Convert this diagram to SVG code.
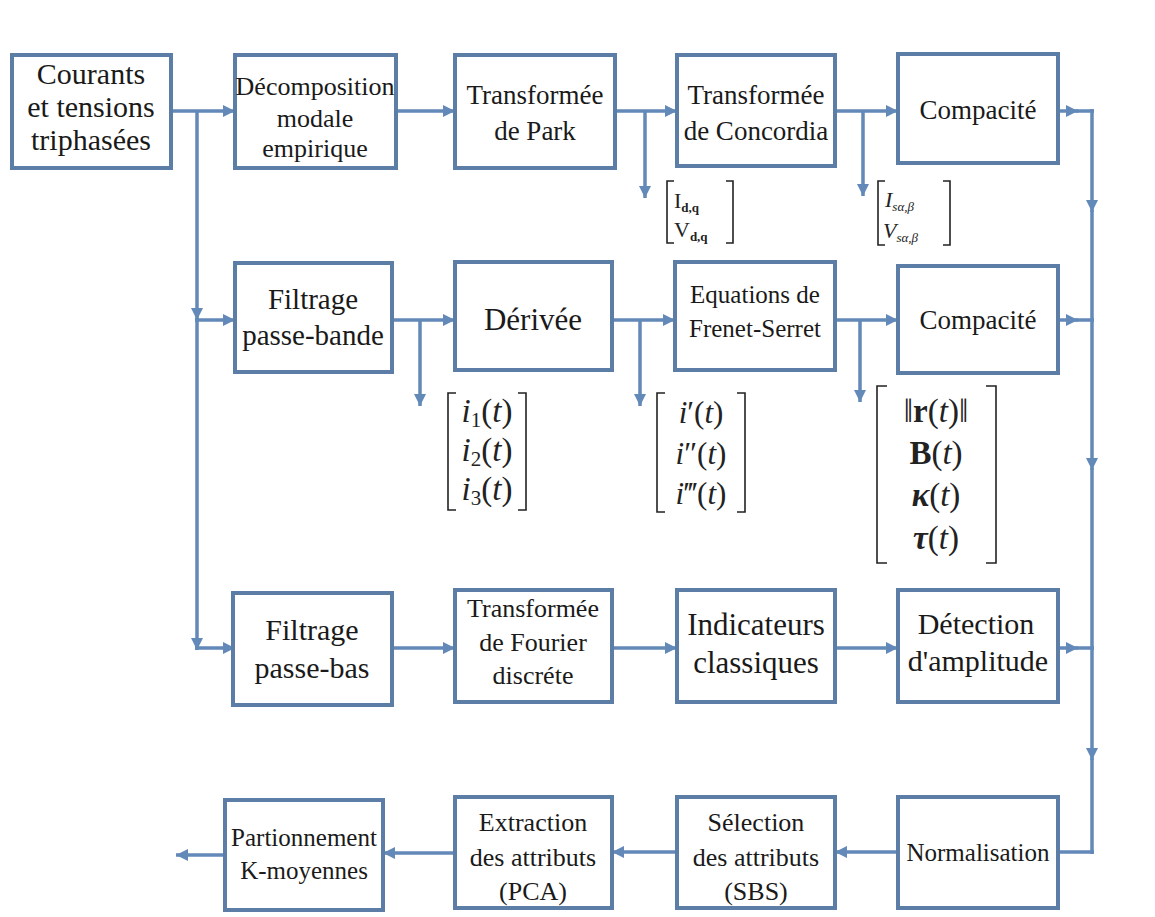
<svg xmlns="http://www.w3.org/2000/svg" width="1155" height="917" viewBox="0 0 1155 917">
<style>
.box{fill:#fff;stroke:#5b7da6;stroke-width:4}
.lbl{font-family:"Liberation Serif","Times New Roman",serif;fill:#1a1a1a;text-anchor:middle}
.ln{fill:none;stroke:#6289b8;stroke-width:3.5}
.br{fill:none;stroke:#222;stroke-width:1.6}
.m{font-family:"Liberation Serif","Times New Roman",serif;fill:#222}
</style>
<defs>
<marker id="ah" markerUnits="userSpaceOnUse" markerWidth="14" markerHeight="12" refX="12" refY="6" orient="auto">
<path d="M0,0 L12,6 L0,12 Z" fill="#6289b8"/>
</marker>
</defs>
<rect width="1155" height="917" fill="#fff"/>

<g id="connectors">
<line class="ln" x1="171" y1="111" x2="235" y2="111" marker-end="url(#ah)"/>
<line class="ln" x1="396" y1="111" x2="455" y2="111" marker-end="url(#ah)"/>
<line class="ln" x1="615" y1="111" x2="677" y2="111" marker-end="url(#ah)"/>
<line class="ln" x1="835" y1="111" x2="898" y2="111" marker-end="url(#ah)"/>
<line class="ln" x1="645" y1="111" x2="645" y2="198" marker-end="url(#ah)"/>
<line class="ln" x1="863" y1="111" x2="863" y2="196" marker-end="url(#ah)"/>
<line class="ln" x1="1058" y1="111" x2="1078" y2="111" marker-end="url(#ah)"/>
<line class="ln" x1="1076" y1="111" x2="1094" y2="111"/>
<line class="ln" x1="197" y1="111" x2="197" y2="320" marker-end="url(#ah)"/>
<line class="ln" x1="197" y1="318" x2="197" y2="650" marker-end="url(#ah)"/>
<line class="ln" x1="195" y1="320" x2="235" y2="320" marker-end="url(#ah)"/>
<line class="ln" x1="195" y1="648" x2="235" y2="648" marker-end="url(#ah)"/>
<line class="ln" x1="392" y1="320" x2="455" y2="320" marker-end="url(#ah)"/>
<line class="ln" x1="612" y1="320" x2="675" y2="320" marker-end="url(#ah)"/>
<line class="ln" x1="835" y1="320" x2="898" y2="320" marker-end="url(#ah)"/>
<line class="ln" x1="420" y1="320" x2="420" y2="406" marker-end="url(#ah)"/>
<line class="ln" x1="640" y1="320" x2="640" y2="406" marker-end="url(#ah)"/>
<line class="ln" x1="860" y1="320" x2="860" y2="402" marker-end="url(#ah)"/>
<line class="ln" x1="1058" y1="320" x2="1078" y2="320" marker-end="url(#ah)"/>
<line class="ln" x1="1076" y1="320" x2="1094" y2="320"/>
<line class="ln" x1="392" y1="648" x2="455" y2="648" marker-end="url(#ah)"/>
<line class="ln" x1="612" y1="648" x2="677" y2="648" marker-end="url(#ah)"/>
<line class="ln" x1="835" y1="648" x2="898" y2="648" marker-end="url(#ah)"/>
<line class="ln" x1="1058" y1="648" x2="1078" y2="648" marker-end="url(#ah)"/>
<line class="ln" x1="1076" y1="648" x2="1094" y2="648"/>
<line class="ln" x1="1092" y1="109" x2="1092" y2="212" marker-end="url(#ah)"/>
<line class="ln" x1="1092" y1="210" x2="1092" y2="470" marker-end="url(#ah)"/>
<line class="ln" x1="1092" y1="468" x2="1092" y2="760" marker-end="url(#ah)"/>
<line class="ln" x1="1092" y1="758" x2="1092" y2="854"/>
<line class="ln" x1="1094" y1="852" x2="1058" y2="852"/>
<line class="ln" x1="898" y1="852" x2="835" y2="852" marker-end="url(#ah)"/>
<line class="ln" x1="677" y1="852" x2="612" y2="852" marker-end="url(#ah)"/>
<line class="ln" x1="455" y1="853" x2="383" y2="853" marker-end="url(#ah)"/>
<line class="ln" x1="225" y1="855" x2="176" y2="855" marker-end="url(#ah)"/>
</g>

<g id="n-courants"><rect class="box" x="12" y="55" width="159" height="113"/>
<text class="lbl" font-size="30" x="91" y="84">Courants</text>
<text class="lbl" font-size="30" x="91" y="117">et tensions</text>
<text class="lbl" font-size="30" x="91" y="150">triphasées</text></g>

<g id="n-emd"><rect class="box" x="235" y="55" width="161" height="113"/>
<text class="lbl" font-size="26" x="315" y="95">Décomposition</text>
<text class="lbl" font-size="26" x="315" y="127">modale</text>
<text class="lbl" font-size="26" x="315" y="157">empirique</text></g>

<g id="n-park"><rect class="box" x="455" y="55" width="160" height="113"/>
<text class="lbl" font-size="27" x="535" y="104">Transformée</text>
<text class="lbl" font-size="27" x="535" y="140">de Park</text></g>

<g id="n-concordia"><rect class="box" x="677" y="55" width="158" height="111"/>
<text class="lbl" font-size="27" x="756" y="104">Transformée</text>
<text class="lbl" font-size="27" x="756" y="140">de Concordia</text></g>

<g id="n-compacite1"><rect class="box" x="898" y="54" width="160" height="109"/>
<text class="lbl" font-size="27" x="978" y="119">Compacité</text></g>

<g id="n-passebande"><rect class="box" x="235" y="263" width="157" height="109"/>
<text class="lbl" font-size="29" x="313" y="309">Filtrage</text>
<text class="lbl" font-size="29" x="313" y="345">passe-bande</text></g>

<g id="n-derivee"><rect class="box" x="455" y="262" width="157" height="108"/>
<text class="lbl" font-size="31" x="533" y="330">Dérivée</text></g>

<g id="n-frenet"><rect class="box" x="675" y="262" width="160" height="108"/>
<text class="lbl" font-size="25" x="755" y="303">Equations de</text>
<text class="lbl" font-size="25" x="755" y="337">Frenet-Serret</text></g>

<g id="n-compacite2"><rect class="box" x="898" y="266" width="160" height="107"/>
<text class="lbl" font-size="27" x="978" y="329">Compacité</text></g>

<g id="n-passebas"><rect class="box" x="233" y="593" width="159" height="112"/>
<text class="lbl" font-size="30" x="312" y="640">Filtrage</text>
<text class="lbl" font-size="30" x="312" y="678">passe-bas</text></g>

<g id="n-fourier"><rect class="box" x="455" y="590" width="157" height="112"/>
<text class="lbl" font-size="26" x="533" y="617">Transformée</text>
<text class="lbl" font-size="26" x="533" y="651">de Fourier</text>
<text class="lbl" font-size="26" x="533" y="684">discréte</text></g>

<g id="n-indicateurs"><rect class="box" x="677" y="590" width="158" height="112"/>
<text class="lbl" font-size="31" x="756" y="635">Indicateurs</text>
<text class="lbl" font-size="31" x="756" y="673">classiques</text></g>

<g id="n-detection"><rect class="box" x="898" y="590" width="160" height="112"/>
<text class="lbl" font-size="30" x="976" y="634">Détection</text>
<text class="lbl" font-size="30" x="978" y="671">d'amplitude</text></g>

<g id="n-normalisation"><rect class="box" x="898" y="797" width="160" height="111"/>
<text class="lbl" font-size="25" x="978" y="861">Normalisation</text></g>

<g id="n-sbs"><rect class="box" x="677" y="797" width="158" height="111"/>
<text class="lbl" font-size="26" x="756" y="831">Sélection</text>
<text class="lbl" font-size="26" x="756" y="866">des attributs</text>
<text class="lbl" font-size="26" x="756" y="900">(SBS)</text></g>

<g id="n-pca"><rect class="box" x="455" y="797" width="157" height="111"/>
<text class="lbl" font-size="26" x="533" y="831">Extraction</text>
<text class="lbl" font-size="26" x="533" y="866">des attributs</text>
<text class="lbl" font-size="26" x="533" y="900">(PCA)</text></g>

<g id="n-kmeans"><rect class="box" x="225" y="800" width="158" height="110"/>
<text class="lbl" font-size="25" x="304" y="846">Partionnement</text>
<text class="lbl" font-size="25" x="304" y="879">K-moyennes</text></g>

<g id="m-dq">
<path class="br" d="M674,181 L667,181 L667,243 L674,243"/>
<path class="br" d="M726,181 L733,181 L733,243 L726,243"/>
<text class="m" font-size="22" x="674" y="208">I<tspan font-size="13" font-weight="bold" dy="4">d,q</tspan></text>
<text class="m" font-size="22" x="674" y="237">V<tspan font-size="13" font-weight="bold" dy="4">d,q</tspan></text>
</g>

<g id="m-ab">
<path class="br" d="M885,181 L878,181 L878,245 L885,245"/>
<path class="br" d="M943,181 L950,181 L950,245 L943,245"/>
<text class="m" font-size="22" font-style="italic" x="885" y="207">I<tspan font-size="13" dy="4">sα,β</tspan></text>
<text class="m" font-size="22" font-style="italic" x="883" y="238">V<tspan font-size="13" dy="4">sα,β</tspan></text>
</g>

<g id="m-i123">
<path class="br" d="M456,393 L448,393 L448,510 L456,510"/>
<path class="br" d="M518,393 L526,393 L526,510 L518,510"/>
<text class="m" font-size="33" x="487" y="422" text-anchor="middle"><tspan font-style="italic">i</tspan><tspan font-size="21" dy="5">1</tspan><tspan dy="-5">(</tspan><tspan font-style="italic">t</tspan>)</text>
<text class="m" font-size="33" x="487" y="461" text-anchor="middle"><tspan font-style="italic">i</tspan><tspan font-size="21" dy="5">2</tspan><tspan dy="-5">(</tspan><tspan font-style="italic">t</tspan>)</text>
<text class="m" font-size="33" x="487" y="500" text-anchor="middle"><tspan font-style="italic">i</tspan><tspan font-size="21" dy="5">3</tspan><tspan dy="-5">(</tspan><tspan font-style="italic">t</tspan>)</text>
</g>

<g id="m-ideriv">
<path class="br" d="M665,393 L657,393 L657,512 L665,512"/>
<path class="br" d="M737,393 L745,393 L745,512 L737,512"/>
<text class="m" font-size="31" x="701" y="423" text-anchor="middle"><tspan font-style="italic">i</tspan>′(<tspan font-style="italic">t</tspan>)</text>
<text class="m" font-size="31" x="701" y="464" text-anchor="middle"><tspan font-style="italic">i</tspan>″(<tspan font-style="italic">t</tspan>)</text>
<text class="m" font-size="31" x="701" y="504" text-anchor="middle"><tspan font-style="italic">i</tspan>‴(<tspan font-style="italic">t</tspan>)</text>
</g>

<g id="m-frenet">
<path class="br" d="M887,386 L877,386 L877,563 L887,563" stroke-width="2"/>
<path class="br" d="M986,386 L996,386 L996,563 L986,563" stroke-width="2"/>
<text class="m" font-size="33" x="936" y="422" text-anchor="middle">‖<tspan font-weight="bold">r</tspan>(<tspan font-style="italic">t</tspan>)‖</text>
<text class="m" font-size="33" x="936" y="464" text-anchor="middle"><tspan font-weight="bold">B</tspan>(<tspan font-style="italic">t</tspan>)</text>
<text class="m" font-size="33" x="936" y="506" text-anchor="middle"><tspan font-weight="bold" font-style="italic">κ</tspan>(<tspan font-style="italic">t</tspan>)</text>
<text class="m" font-size="33" x="936" y="549" text-anchor="middle"><tspan font-weight="bold" font-style="italic">τ</tspan>(<tspan font-style="italic">t</tspan>)</text>
</g>
</svg>
